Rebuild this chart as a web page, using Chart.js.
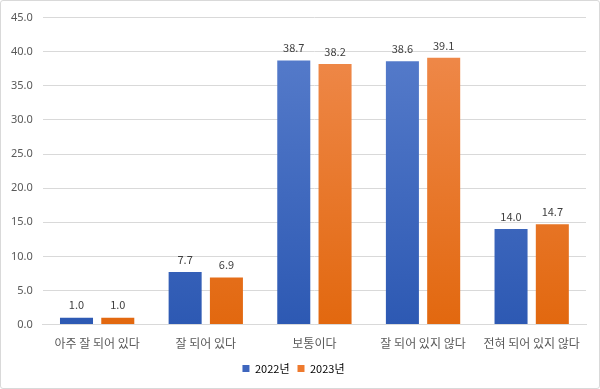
<!DOCTYPE html>
<html>
<head>
<meta charset="utf-8">
<script src="https://cdn.jsdelivr.net/npm/chart.js@4/dist/chart.umd.min.js"></script>
<style>
html,body{margin:0;padding:0;background:#fff;}
#wrap{position:relative;width:598px;height:387px;border:1px solid #d9d9d9;border-radius:3px;}
</style>
</head>
<body>
<div id="wrap"><canvas id="c" width="598" height="387"></canvas></div>
<script>
// 데이터
const categories=['아주 잘 되어 있다','잘 되어 있다','보통이다','잘 되어 있지 않다','전혀 되어 있지 않다'];
const values2022=[1.0,7.7,38.7,38.6,14.0];
const values2023=[1.0,6.9,38.2,39.1,14.7];
const seriesNames=['2022년','2023년'];

function grad(top,bottom){
    return function(ctx){
        const ch=ctx.chart, a=ch.chartArea;
        if(!a) return bottom;
        const g=ch.ctx.createLinearGradient(0,a.top,0,a.bottom);
        g.addColorStop(0,top);
        g.addColorStop(1,bottom);
        return g;
    };
}

// 막대 위 값 표시
const valueLabels={
    id:'valueLabels',
    afterDatasetsDraw(chart){
        const c=chart.ctx;
        c.save();
        c.font='11px "Noto Sans CJK KR", "Noto Sans", sans-serif';
        c.fillStyle='#404040';
        c.textAlign='center';
        c.textBaseline='bottom';
        chart.data.datasets.forEach((ds,i)=>{
            chart.getDatasetMeta(i).data.forEach((bar,j)=>{
                c.fillText(ds.data[j].toFixed(1),bar.x,bar.y-7);
            });
        });
        c.restore();
    }
};

new Chart(document.getElementById('c'),{
    type:'bar',
    data:{
        labels:categories,
        datasets:[
            {label:seriesNames[0],data:values2022,backgroundColor:grad('#5a7fcd','#2d59b3'),legendColor:'#3e66be'},
            {label:seriesNames[1],data:values2023,backgroundColor:grad('#f08c50','#e2680f'),legendColor:'#ee7a2e'}
        ]
    },
    options:{
        responsive:false,
        animation:false,
        layout:{padding:{left:0,right:13,top:4,bottom:4}},
        datasets:{bar:{categoryPercentage:0.76,barPercentage:0.8}},
        scales:{
            x:{
                grid:{display:false},
                border:{color:'#d9d9d9'},
                ticks:{color:'#595959',font:{size:12,family:'"Noto Sans CJK KR", sans-serif'},padding:4}
            },
            y:{
                min:0,max:45,
                ticks:{stepSize:5,color:'#595959',padding:10,font:{size:11,family:'"Noto Sans", sans-serif'},callback:v=>v.toFixed(1)},
                grid:{color:'#d9d9d9',drawTicks:false},
                border:{display:false}
            }
        },
        plugins:{
            legend:{
                position:'bottom',
                labels:{
                    boxWidth:7,boxHeight:7,padding:8,color:'#595959',
                    font:{size:11,family:'"Noto Sans CJK KR", sans-serif'},
                    generateLabels(chart){
                        return chart.data.datasets.map((ds,i)=>({text:ds.label,fillStyle:ds.legendColor,strokeStyle:ds.legendColor,lineWidth:0,datasetIndex:i}));
                    }
                }
            },
            tooltip:{enabled:false}
        }
    },
    plugins:[valueLabels]
});
</script>
</body>
</html>
